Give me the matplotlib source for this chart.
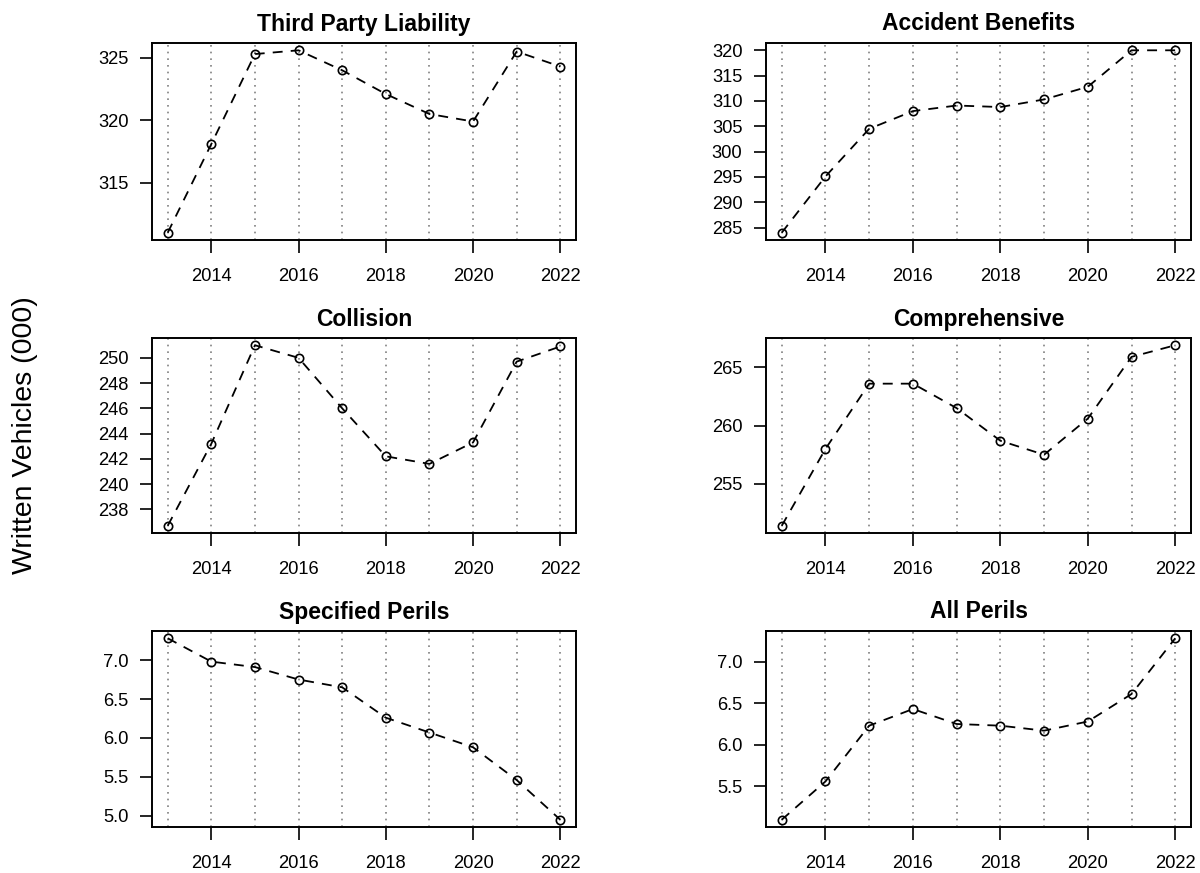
import matplotlib
matplotlib.use("Agg")
from matplotlib import pyplot as plt
from matplotlib.ticker import MultipleLocator, FormatStrFormatter

plt.rcParams['font.family'] = ['Liberation Sans', 'DejaVu Sans']

years = [2013, 2014, 2015, 2016, 2017, 2018, 2019, 2020, 2021, 2022]
xticks = [2014, 2016, 2018, 2020, 2022]

titles = ["Third Party Liability", "Accident Benefits", "Collision",
          "Comprehensive", "Specified Perils", "All Perils"]

third_party = [311.0, 318.1, 325.3, 325.6, 324.0, 322.1, 320.5, 319.9, 325.5, 324.3]
accident = [284.0, 295.1, 304.5, 308.0, 309.1, 308.8, 310.3, 312.8, 320.0, 320.0]
collision = [236.7, 243.2, 251.0, 250.0, 246.0, 242.2, 241.6, 243.3, 249.7, 250.9]
comprehensive = [251.4, 258.0, 263.6, 263.6, 261.5, 258.7, 257.5, 260.6, 265.9, 266.9]
specified = [7.28, 6.98, 6.91, 6.75, 6.65, 6.26, 6.07, 5.88, 5.46, 4.95]
all_perils = [5.10, 5.56, 6.23, 6.43, 6.25, 6.23, 6.17, 6.28, 6.61, 7.28]

series = [third_party, accident, collision, comprehensive, specified, all_perils]
ystep = [5, 5, 2, 5, 0.5, 0.5]
yfmt = ['%d', '%d', '%d', '%d', '%.1f', '%.1f']

W, H = 1200, 873
fig = plt.figure(figsize=(12, 8.73), dpi=100)

# panel boxes in pixels: (left, top, right, bottom)
cols = [(152, 576), (766, 1191)]
rows = [(43, 240), (338, 533), (631, 827)]

for i, vals in enumerate(series):
    c0, c1 = cols[i % 2]
    r0, r1 = rows[i // 2]
    ax = fig.add_axes([c0 / W, 1 - r1 / H, (c1 - c0) / W, (r1 - r0) / H])

    for yr in years:
        ax.axvline(yr, color='#808080', linestyle=(0, (1, 3)), lw=1.2, zorder=1)
    ax.plot(years, vals, color='black', linestyle=(0, (5.5, 4.5)), lw=1.3,
            marker='o', markersize=6, markerfacecolor='none',
            markeredgewidth=1.2, zorder=3)

    ax.margins(x=0.04, y=0.04)
    ax.set_xticks(xticks)
    ax.yaxis.set_major_locator(MultipleLocator(ystep[i]))
    ax.yaxis.set_major_formatter(FormatStrFormatter(yfmt[i]))
    ax.tick_params(direction='out', length=9, width=1.2, labelsize=13.2,
                   color='black')
    ax.tick_params(axis='x', pad=11)
    ax.tick_params(axis='y', pad=8)
    for sp in ax.spines.values():
        sp.set_linewidth(1.4)
    ax.set_title(titles[i], fontsize=16.5, fontweight='bold', pad=9)

fig.text(25 / W, 1 - 435 / H, "Written Vehicles (000)", rotation=90,
         ha='center', va='center', fontsize=20.5)

fig.savefig("out.png", dpi=100)
